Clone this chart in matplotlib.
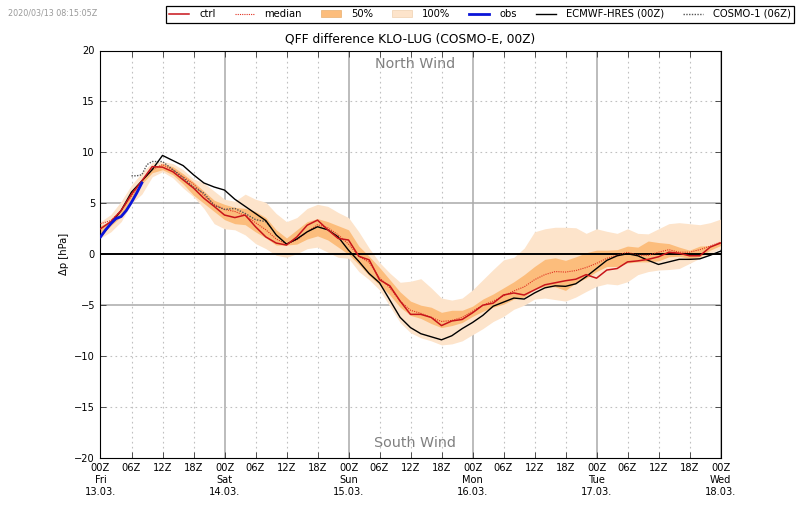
import matplotlib
matplotlib.use('Agg')
import matplotlib.pyplot as plt
from matplotlib.patches import Patch
from matplotlib.lines import Line2D

# values every 2 hours from 13.03. 00Z
hours = list(range(0, 121, 2))

ctrl = [2.5, 3.2, 4.3, 5.9, 7.2, 8.6, 8.55, 8.1, 7.3, 6.5, 5.5, 4.7, 3.85, 3.6, 3.85, 2.7, 1.7, 1.1, 0.9, 1.7, 2.85, 3.35, 2.4, 1.55, 1.4,
        -0.2, -0.55, -2.5, -3.1, -4.6, -5.9, -5.9, -6.2, -7.0, -6.55, -6.4, -5.75, -5.0, -4.8, -4.0, -3.8, -4.0,
        -3.5, -3.0, -2.8, -2.6, -2.45, -2.0, -2.35, -1.55, -1.4, -0.75, -0.65, -0.5, -0.25, 0.2, 0.1, -0.15, -0.15, 0.7, 1.1]
median = [3.0, 3.3, 4.3, 5.7, 7.2, 8.3, 8.8, 8.3, 7.6, 6.9, 5.8, 4.9, 4.4, 4.2, 3.8, 3.1, 2.4, 1.5, 1.0, 1.4, 2.2, 2.9, 2.6, 1.9, 1.0,
          -0.2, -0.8, -2.3, -3.3, -4.6, -5.5, -5.8, -6.2, -6.6, -6.5, -6.2, -5.6, -5.0, -4.6, -4.1, -3.6, -3.2,
          -2.5, -2.0, -1.7, -1.75, -1.6, -1.3, -0.9, -0.4, -0.1, 0.2, -0.1, -0.1, 0.2, 0.45, 0.2, 0.2, 0.45, 0.8, 1.2]
p50_upper = [2.8, 3.3, 4.4, 6.0, 7.4, 8.5, 8.9, 8.6, 7.9, 7.1, 6.2, 5.3, 4.9, 4.6, 4.5, 4.2, 3.6, 2.4, 1.6, 2.4, 3.2, 3.5, 3.2, 2.8, 2.4,
             0.8, -0.2, -1.3, -2.5, -3.7, -4.6, -5.0, -5.2, -5.7, -5.5, -5.5, -5.1, -4.4, -3.9, -3.3, -2.7, -2.0,
             -1.2, -0.5, -0.35, -0.6, -0.25, 0.15, 0.4, 0.4, 0.45, 0.8, 0.7, 1.3, 1.15, 1.05, 0.7, 0.4, 0.8, 0.85, 1.2]
p50_lower = [1.8, 2.8, 3.7, 5.4, 6.9, 8.0, 8.3, 7.8, 6.9, 5.8, 5.0, 4.2, 3.4, 3.0, 2.9, 2.2, 1.6, 0.9, 0.9, 1.0, 1.5, 1.8, 1.4, 0.7, 0.0,
             -1.0, -2.1, -3.0, -4.0, -5.2, -6.0, -6.3, -6.8, -7.2, -7.0, -6.7, -6.1, -5.6, -5.2, -4.9, -4.4, -4.2,
             -3.4, -3.15, -3.2, -3.55, -2.8, -2.35, -1.7, -1.2, -1.2, -0.85, -0.75, -0.75, -0.65, -0.25, -0.2, -0.4, -0.25, 0.4, 0.85]
p100_upper = [3.2, 3.9, 5.2, 6.8, 8.0, 9.0, 9.1, 8.9, 8.3, 7.4, 7.0, 6.2, 5.4, 5.2, 5.9, 5.4, 5.1, 4.0, 3.2, 3.6, 4.5, 4.9, 4.7, 4.1, 3.6,
              2.2, 0.6, -0.8, -1.85, -2.75, -2.65, -2.4, -3.3, -4.3, -4.5, -4.3, -3.5, -2.5, -1.5, -0.55, -0.3, 0.6,
              2.2, 2.5, 2.65, 2.65, 2.6, 2.05, 2.5, 2.25, 2.05, 2.5, 2.05, 2.0, 2.5, 3.0, 3.1, 3.0, 2.9, 3.1, 3.45]
p100_lower = [1.6, 2.2, 3.2, 5.0, 5.9, 7.6, 8.1, 7.5, 6.5, 5.65, 4.5, 3.0, 2.5, 2.4, 1.9, 1.05, 0.55, -0.1, -0.3, 0.05, 0.55, 0.7, 0.2, -0.3, -0.4,
              -1.7, -2.5, -3.5, -5.1, -6.7, -7.7, -8.2, -8.5, -8.9, -8.8, -8.5, -7.9, -7.3, -6.6, -6.1, -5.4, -5.0,
              -4.4, -4.3, -4.45, -4.6, -4.2, -3.65, -3.15, -2.9, -3.0, -2.7, -2.0, -1.7, -1.55, -1.5, -1.4, -0.9, -0.4, 0.05, 0.55]
ecmwf = [1.7, 3.0, 4.3, 6.1, 7.2, 8.3, 9.7, 9.2, 8.7, 7.8, 7.0, 6.6, 6.3, 5.4, 4.7, 4.0, 3.3, 1.9, 1.0, 1.5, 2.2, 2.7, 2.4, 1.7, 0.4,
         -0.7, -1.9, -2.8, -4.5, -6.2, -7.2, -7.8, -8.1, -8.4, -8.0, -7.3, -6.7, -6.0, -5.1, -4.7, -4.3, -4.4,
         -3.8, -3.3, -3.1, -3.15, -2.9, -2.2, -1.4, -0.6, -0.15, 0.05, -0.15, -0.6, -1.0, -0.75, -0.5, -0.5, -0.45, -0.1, 0.3]

obs_hours = [0, 1, 2, 3, 4, 5, 6, 7, 8]
obs = [1.7, 2.4, 3.0, 3.5, 3.7, 4.3, 5.1, 6.0, 7.0]

cosmo1_hours = [6, 7, 8, 9, 10, 12, 14, 16, 18, 20, 22, 24, 26, 28, 30, 32, 33]
cosmo1 = [7.7, 7.7, 7.8, 8.8, 9.1, 9.1, 8.3, 7.5, 6.6, 6.0, 4.8, 4.4, 4.5, 4.0, 3.4, 3.2, 2.6]

tick_hours = list(range(0, 121, 6))
day_labels = {0: 'Fri\n13.03.', 24: 'Sat\n14.03.', 48: 'Sun\n15.03.', 72: 'Mon\n16.03.', 96: 'Tue\n17.03.', 120: 'Wed\n18.03.'}

fig = plt.figure(figsize=(8, 5.09), dpi=100)
ax = fig.add_axes([100.5 / 800, 1 - 458 / 509, 620 / 800, 407.5 / 509])

ax.fill_between(hours, p100_lower, p100_upper, color='#fde4cb', lw=0, zorder=2)
ax.fill_between(hours, p50_lower, p50_upper, color='#fcbd7c', lw=0, zorder=2.5)

# grid
for h in tick_hours:
    if h % 24 == 0:
        ax.axvline(h, color='#aaaaaa', lw=1.1, zorder=1)
    else:
        ax.axvline(h, color='#c0c0c0', lw=0.8, ls=(0, (1.5, 3)), zorder=1)
for v in [-15, -10, 10, 15]:
    ax.axhline(v, color='#c0c0c0', lw=0.8, ls=(0, (1.5, 3)), zorder=1)
for v in [-5, 5]:
    ax.axhline(v, color='#aaaaaa', lw=1.1, zorder=1)
ax.axhline(0, color='black', lw=1.4, zorder=2.7)

ax.plot(hours, median, color='#e03020', lw=0.8, ls=(0, (1, 1)), zorder=3)
ax.plot(cosmo1_hours, cosmo1, color='#555555', lw=1.0, ls=(0, (1, 1)), zorder=3)
ax.plot(hours, ecmwf, color='black', lw=1.0, zorder=4)
ax.plot(hours, ctrl, color='#c8141a', lw=1.1, zorder=5)
ax.plot(obs_hours, obs, color='#0a14d8', lw=2.0, zorder=6)

ax.set_xlim(0, 120)
ax.set_ylim(-20, 20)
ax.set_yticks(range(-20, 21, 5))
labels = []
for h in tick_hours:
    lab = '%02dZ' % (h % 24)
    if h in day_labels:
        lab += '\n' + day_labels[h]
    labels.append(lab)
ax.set_xticks(tick_hours)
ax.set_xticklabels(labels, fontsize=7.1, linespacing=1.25)
ax.tick_params(axis='x', direction='in', length=4, width=0.6, top=True, pad=3.5, color='#333333')
ax.tick_params(axis='y', direction='in', length=4, width=0.6, right=True, labelsize=7.1, pad=4, color='#333333')
ax.set_ylabel('\u0394p [hPa]', fontsize=7.2, labelpad=4)
ax.set_title('QFF difference KLO-LUG (COSMO-E, 00Z)', fontsize=8.8, pad=6)

ax.text(60.8, 18.65, 'North Wind', color='#808080', fontsize=10.3, ha='center', va='center')
ax.text(60.8, -18.5, 'South Wind', color='#808080', fontsize=10.3, ha='center', va='center')

fig.text(8 / 800, 1 - 13 / 509, '2020/03/13 08:15:05Z', color='#999999', fontsize=5.8, va='center')

handles = [
    Line2D([], [], color='#c8141a', lw=1.1),
    Line2D([], [], color='#e03020', lw=0.8, ls=(0, (1, 1))),
    Patch(facecolor='#fcbd7c', edgecolor='#e8b070', lw=0.5),
    Patch(facecolor='#fde4cb', edgecolor='#f0d0b0', lw=0.5),
    Line2D([], [], color='#0a14d8', lw=2.0),
    Line2D([], [], color='black', lw=1.0),
    Line2D([], [], color='#555555', lw=1.0, ls=(0, (1, 1))),
]
names = ['ctrl', 'median', '50%', '100%', 'obs', 'ECMWF-HRES (00Z)', 'COSMO-1 (06Z)']
leg = fig.legend(handles, names, ncol=7, loc='center', bbox_to_anchor=(480 / 800, 1 - 14 / 509),
                 fontsize=7.2, frameon=True, fancybox=False, edgecolor='black', framealpha=1,
                 handlelength=2.0, columnspacing=1.9, handletextpad=1.0, borderpad=0.35)
leg.get_frame().set_linewidth(0.9)

fig.savefig('out.png', dpi=100)
